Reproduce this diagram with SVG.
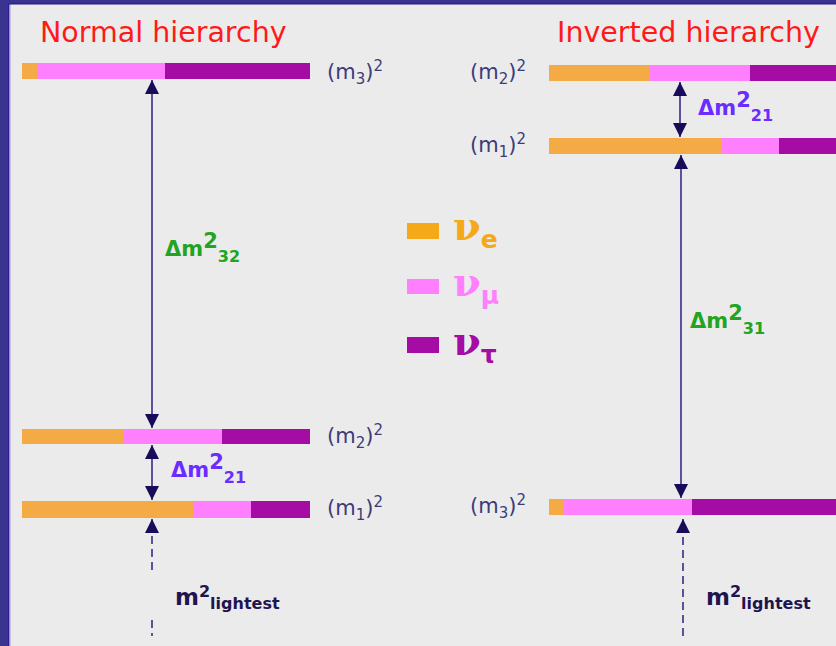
<svg xmlns="http://www.w3.org/2000/svg" width="836" height="646" viewBox="0 0 836 646">
<style>
.title{font-family:"DejaVu Sans",Verdana,sans-serif;font-size:28.5px;fill:#ff1a1a}
.lvl{font-family:"DejaVu Sans",Verdana,sans-serif;font-size:21px;fill:#3c3c7a}
.sub{font-size:15px}
.dm{font-family:"DejaVu Sans",Verdana,sans-serif;font-weight:bold;font-size:21px}
.dmsub{font-size:16px}
.light{font-family:"DejaVu Sans",Verdana,sans-serif;font-weight:bold;font-size:23px;fill:#1e1450}
.lightsub{font-size:16px}
.nu{font-family:"DejaVu Serif","Liberation Serif",serif;font-weight:bold;font-size:40px}
.nusub{font-family:"DejaVu Sans",sans-serif;font-weight:bold;font-size:25px}
.o{fill:#f4aa45}.p{fill:#ff80ff}.v{fill:#a40ca4}
.arr{stroke:#3a2a8a;stroke-width:1.6;fill:none}
.dash{stroke:#3a2a8a;stroke-width:1.6;fill:none;stroke-dasharray:8,5}
</style>
<defs>
<marker id="ah" markerUnits="userSpaceOnUse" markerWidth="15" markerHeight="15" refX="14" refY="7.5" orient="auto-start-reverse" viewBox="0 0 15 15">
<path d="M0,0.5 L14,7.5 L0,14.5 z" fill="#1a0a5a"/>
</marker>
</defs>
<rect x="0" y="0" width="836" height="646" fill="#ebebeb"/>
<rect x="0" y="0" width="836" height="4" fill="#3a3490"/>
<rect x="0" y="0" width="9" height="646" fill="#3a3490"/>
<rect x="8" y="4" width="1.5" height="642" fill="#2a2090"/>
<rect x="9.5" y="4" width="1" height="642" fill="#a89ae0"/>
<rect x="9" y="3" width="827" height="1.5" fill="#2a2090"/>

<text class="title" x="40" y="42">Normal hierarchy</text>
<text class="title" x="557" y="42">Inverted hierarchy</text>

<g id="connectors">
<line class="arr" x1="152" y1="80" x2="152" y2="428" marker-start="url(#ah)" marker-end="url(#ah)"/>
<line class="arr" x1="152" y1="445" x2="152" y2="500" marker-start="url(#ah)" marker-end="url(#ah)"/>
<line class="arr" x1="152" y1="533" x2="152" y2="519" marker-end="url(#ah)"/>
<line class="dash" x1="152" y1="536" x2="152" y2="572"/>
<line class="dash" x1="152" y1="620" x2="152" y2="636" stroke-dasharray="4,4,9"/>
<line class="arr" x1="680" y1="82" x2="680" y2="137" marker-start="url(#ah)" marker-end="url(#ah)"/>
<line class="arr" x1="681" y1="155" x2="681" y2="498" marker-start="url(#ah)" marker-end="url(#ah)"/>
<line class="arr" x1="683" y1="533" x2="683" y2="519" marker-end="url(#ah)"/>
<line class="dash" x1="683" y1="537" x2="683" y2="636"/>
</g>

<g id="n-m3">
<rect class="o" x="22" y="63" width="15" height="16"/>
<rect class="p" x="37" y="63" width="128" height="16"/>
<rect class="v" x="165" y="63" width="145" height="16"/>
<text class="lvl" x="327" y="79">(m<tspan class="sub" dy="5">3</tspan><tspan dy="-5">)</tspan><tspan class="sub" dy="-8">2</tspan></text>
</g>
<g id="n-m2">
<rect class="o" x="22" y="429" width="101" height="15"/>
<rect class="p" x="123" y="429" width="99" height="15"/>
<rect class="v" x="222" y="429" width="88" height="15"/>
<text class="lvl" x="327" y="443">(m<tspan class="sub" dy="5">2</tspan><tspan dy="-5">)</tspan><tspan class="sub" dy="-8">2</tspan></text>
</g>
<g id="n-m1">
<rect class="o" x="22" y="501" width="171" height="17"/>
<rect class="p" x="193" y="501" width="58" height="17"/>
<rect class="v" x="251" y="501" width="59" height="17"/>
<text class="lvl" x="327" y="515">(m<tspan class="sub" dy="5">1</tspan><tspan dy="-5">)</tspan><tspan class="sub" dy="-8">2</tspan></text>
</g>

<g id="i-m2">
<rect class="o" x="549" y="65" width="101" height="16"/>
<rect class="p" x="650" y="65" width="100" height="16"/>
<rect class="v" x="750" y="65" width="86" height="16"/>
<text class="lvl" x="470" y="79">(m<tspan class="sub" dy="5">2</tspan><tspan dy="-5">)</tspan><tspan class="sub" dy="-8">2</tspan></text>
</g>
<g id="i-m1">
<rect class="o" x="549" y="138" width="172" height="16"/>
<rect class="p" x="721" y="138" width="58" height="16"/>
<rect class="v" x="779" y="138" width="57" height="16"/>
<text class="lvl" x="470" y="152">(m<tspan class="sub" dy="5">1</tspan><tspan dy="-5">)</tspan><tspan class="sub" dy="-8">2</tspan></text>
</g>
<g id="i-m3">
<rect class="o" x="549" y="499" width="15" height="16"/>
<rect class="p" x="564" y="499" width="128" height="16"/>
<rect class="v" x="692" y="499" width="144" height="16"/>
<text class="lvl" x="470" y="513">(m<tspan class="sub" dy="5">3</tspan><tspan dy="-5">)</tspan><tspan class="sub" dy="-8">2</tspan></text>
</g>

<g id="lbl-dm32"><text class="dm" x="165" y="256" fill="#22a422">Δm<tspan dy="-8">2</tspan><tspan class="dmsub" dy="14">32</tspan></text></g>
<g id="lbl-dm21n"><text class="dm" x="171" y="477" fill="#6a2cff">Δm<tspan dy="-8">2</tspan><tspan class="dmsub" dy="14">21</tspan></text></g>
<g id="lbl-dm21i"><text class="dm" x="698" y="115" fill="#6a2cff">Δm<tspan dy="-8">2</tspan><tspan class="dmsub" dy="14">21</tspan></text></g>
<g id="lbl-dm31"><text class="dm" x="690" y="328" fill="#22a422">Δm<tspan dy="-8">2</tspan><tspan class="dmsub" dy="14">31</tspan></text></g>

<g id="lbl-light-n"><text class="light" x="175" y="605">m<tspan dy="-8" class="lightsub">2</tspan><tspan class="lightsub" dy="12">lightest</tspan></text></g>
<g id="lbl-light-i"><text class="light" x="706" y="605">m<tspan dy="-8" class="lightsub">2</tspan><tspan class="lightsub" dy="12">lightest</tspan></text></g>

<g id="legend">
<rect x="407" y="223" width="32" height="16" fill="#f5a818"/>
<text x="453" y="240" fill="#f5a818"><tspan class="nu">ν</tspan><tspan class="nusub" dy="8">e</tspan></text>
<rect x="407" y="279" width="32" height="15" fill="#ff80ff"/>
<text x="453" y="296" fill="#ff80ff"><tspan class="nu">ν</tspan><tspan class="nusub" dy="8">μ</tspan></text>
<rect x="407" y="337" width="32" height="16" fill="#a40ca4"/>
<text x="453" y="355" fill="#a40ca4"><tspan class="nu">ν</tspan><tspan class="nusub" dy="8">τ</tspan></text>
</g>
</svg>
